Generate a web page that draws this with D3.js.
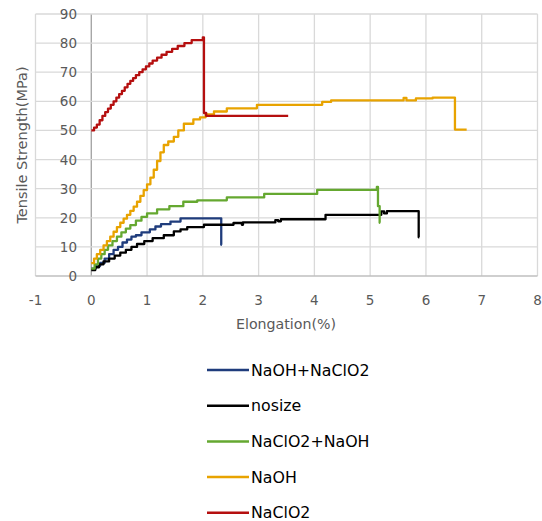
<!DOCTYPE html>
<html>
<head>
<meta charset="utf-8">
<script src="https://cdn.jsdelivr.net/npm/d3@7"></script>
<style>
  body { margin: 0; background: #fff; }
  text { font-family: "DejaVu Sans", sans-serif; }
</style>
</head>
<body>
<script>
// series: [elongation %, tensile strength MPa]
const naohNaclo2 = [[0,2.5],[0.08,3.5],[0.16,4.5],[0.24,6],[0.32,7.5],[0.4,9],[0.48,10],[0.56,11.5],[0.64,12.5],[0.72,13.5],[0.8,14],[0.9,15],[1.05,16],[1.15,17],[1.25,17.8],[1.42,18.7],[1.6,19.8],[2.33,10.7],[2.34,10.7]];
const nosize = [[0,2],[0.07,3],[0.14,4],[0.22,5],[0.32,6],[0.42,7],[0.52,8],[0.62,9],[0.72,10],[0.82,11],[0.95,12],[1.1,13],[1.3,14],[1.48,15.3],[1.6,16],[1.72,16.8],[2.02,17.6],[2.55,18.2],[2.7,17.6],[2.72,18.4],[3.3,19.2],[3.35,18.8],[3.4,19.5],[4.2,21],[5.2,22.2],[5.25,21.5],[5.3,22.3],[5.87,13.3],[5.88,13.3]];
const naclo2Naoh = [[0,2.5],[0.06,4],[0.12,6],[0.18,7.5],[0.24,9],[0.3,10.5],[0.38,12],[0.46,13.5],[0.54,15],[0.62,16.3],[0.7,17.5],[0.8,19],[0.9,20.3],[1.0,21.5],[1.18,22.9],[1.4,24],[1.65,25.5],[1.9,26],[2.43,27],[3.1,28.2],[4.05,29.6],[5.12,30.6],[5.14,24],[5.17,18.3],[5.18,18.3]];
const naoh = [[0,4.4],[0.05,6],[0.1,7.5],[0.16,9],[0.22,10.5],[0.28,12],[0.34,13.5],[0.4,15.2],[0.46,16.8],[0.52,18.3],[0.58,19.7],[0.64,21],[0.7,22.4],[0.76,23.8],[0.82,25.5],[0.88,27.5],[0.94,29.5],[1.0,31.5],[1.06,33.8],[1.12,36.5],[1.18,39.5],[1.24,42.5],[1.3,45],[1.38,46.2],[1.48,47.8],[1.56,50],[1.66,52.3],[1.83,53.8],[1.95,54.5],[2.05,55.5],[2.2,56.5],[2.43,57.6],[2.97,58.8],[4.14,59.8],[4.3,60.3],[5.6,61.2],[5.65,60.3],[5.7,60.3],[5.82,61],[6.12,61.3],[6.52,50.3],[6.73,50.3]];
const naclo2 = [[0,50],[0.05,51],[0.1,52],[0.15,53.5],[0.2,55],[0.25,56.3],[0.3,57.5],[0.35,58.8],[0.4,60],[0.45,61.3],[0.5,62.5],[0.55,63.6],[0.6,64.8],[0.65,66],[0.7,67],[0.75,68],[0.8,69],[0.86,70],[0.92,71],[0.98,72],[1.04,73],[1.1,74],[1.18,75],[1.26,76],[1.35,77],[1.45,78],[1.55,79],[1.67,80],[1.8,81],[2.0,82],[2.02,56],[2.06,55],[3.53,55]];

const seriesNames = ["NaOH+NaClO2", "nosize", "NaClO2+NaOH", "NaOH", "NaClO2"];
const seriesData = [naohNaclo2, nosize, naclo2Naoh, naoh, naclo2];
const seriesColors = ["#1f3c7c", "#000000", "#65a830", "#e8a300", "#b50f0f"];

const xTicks = [-1, 0, 1, 2, 3, 4, 5, 6, 7, 8];
const yTicks = [0, 10, 20, 30, 40, 50, 60, 70, 80, 90];

const width = 542, height = 521;

const svg = d3.select("body").append("svg")
    .attr("width", width)
    .attr("height", height);

const x = d3.scaleLinear().domain([-1, 8]).range([35.5, 537.5]);
const y = d3.scaleLinear().domain([0, 90]).range([276, 14]);

// grid
svg.append("g")
    .selectAll("line")
    .data(xTicks)
    .join("line")
    .attr("x1", d => x(d)).attr("x2", d => x(d))
    .attr("y1", y(0)).attr("y2", y(90))
    .attr("stroke", d => d === 0 ? "#a0a0a0" : "#d9d9d9")
    .attr("stroke-width", 1.3);

svg.append("g")
    .selectAll("line")
    .data(yTicks)
    .join("line")
    .attr("x1", x(-1)).attr("x2", x(8))
    .attr("y1", d => y(d)).attr("y2", d => y(d))
    .attr("stroke", d => d === 0 ? "#bfbfbf" : "#d9d9d9")
    .attr("stroke-width", 1.3);

// tick labels
svg.append("g")
    .selectAll("text")
    .data(xTicks)
    .join("text")
    .attr("x", d => x(d))
    .attr("y", 305)
    .attr("text-anchor", "middle")
    .attr("font-size", 13.5)
    .attr("fill", "#595959")
    .text(d => d);

svg.append("g")
    .selectAll("text")
    .data(yTicks)
    .join("text")
    .attr("x", 77)
    .attr("y", d => y(d) + 5)
    .attr("text-anchor", "end")
    .attr("font-size", 13.5)
    .attr("fill", "#595959")
    .text(d => d);

// axis titles
svg.append("text")
    .attr("x", 286)
    .attr("y", 329)
    .attr("text-anchor", "middle")
    .attr("font-size", 14.2)
    .attr("fill", "#595959")
    .text("Elongation(%)");

svg.append("text")
    .attr("transform", "translate(27,145) rotate(-90)")
    .attr("text-anchor", "middle")
    .attr("font-size", 14.5)
    .attr("fill", "#595959")
    .text("Tensile Strength(MPa)");

// curves
const line = d3.line()
    .x(d => x(d[0]))
    .y(d => y(d[1]))
    .curve(d3.curveStepAfter);

svg.append("g")
    .selectAll("path")
    .data(seriesData)
    .join("path")
    .attr("d", line)
    .attr("fill", "none")
    .attr("stroke", (d, i) => seriesColors[i])
    .attr("stroke-width", 2.3)
    .attr("stroke-linejoin", "round");

// legend
const legend = svg.append("g")
    .selectAll("g")
    .data(seriesNames)
    .join("g")
    .attr("transform", (d, i) => `translate(207,${370 + i * 35.7})`);

legend.append("line")
    .attr("x1", 0).attr("x2", 42)
    .attr("stroke", (d, i) => seriesColors[i])
    .attr("stroke-width", 2.5);

legend.append("text")
    .attr("x", 44)
    .attr("y", 5.5)
    .attr("font-size", 15.8)
    .attr("fill", "#000")
    .text(d => d);
</script>
</body>
</html>
